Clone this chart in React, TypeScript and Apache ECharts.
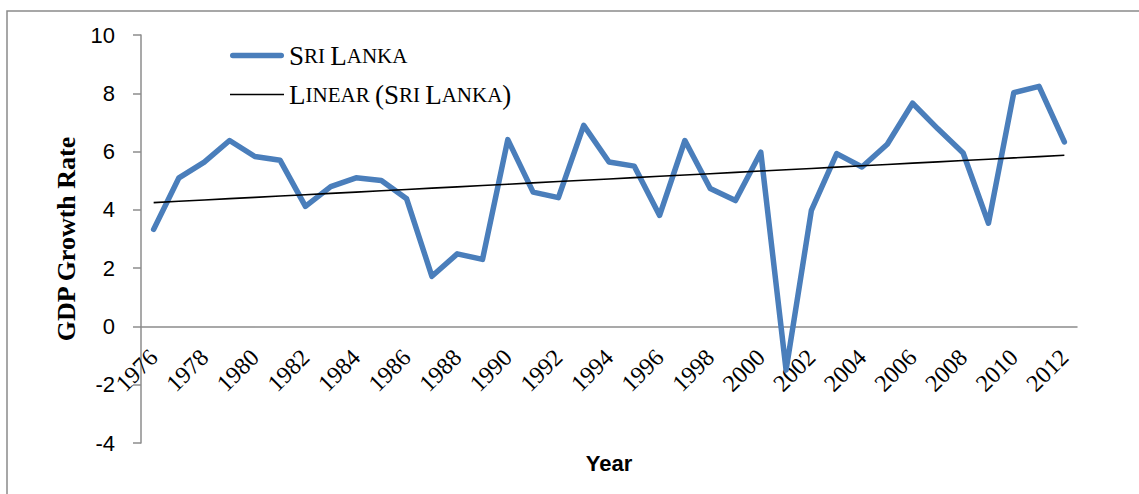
import React, { useEffect, useRef } from "react";
import * as echarts from "echarts";

const years: string[] = [
  "1976", "1977", "1978", "1979", "1980", "1981", "1982", "1983", "1984", "1985",
  "1986", "1987", "1988", "1989", "1990", "1991", "1992", "1993", "1994", "1995",
  "1996", "1997", "1998", "1999", "2000", "2001", "2002", "2003", "2004", "2005",
  "2006", "2007", "2008", "2009", "2010", "2011", "2012",
];

const sriLanka: number[] = [
  3.33, 5.10, 5.64, 6.38, 5.83, 5.70, 4.12, 4.80, 5.10, 5.01,
  4.38, 1.72, 2.49, 2.30, 6.41, 4.61, 4.42, 6.90, 5.64, 5.50,
  3.81, 6.38, 4.73, 4.32, 5.98, -1.50, 3.98, 5.93, 5.47, 6.25,
  7.66, 6.78, 5.95, 3.54, 8.02, 8.24, 6.33,
];

const yTicks = { min: -4, max: 10, interval: 2 };

function linearTrend(vals: number[]): number[] {
  const n = vals.length;
  let sx = 0, sy = 0, sxx = 0, sxy = 0;
  vals.forEach((v, i) => {
    const x = i + 1;
    sx += x; sy += v; sxx += x * x; sxy += x * v;
  });
  const slope = (n * sxy - sx * sy) / (n * sxx - sx * sx);
  const icpt = (sy - slope * sx) / n;
  return vals.map((_, i) => +(icpt + slope * (i + 1)).toFixed(4));
}

const trend = linearTrend(sriLanka);

const serif = "'Liberation Serif', 'Times New Roman', serif";
const sans = "'Liberation Sans', Arial, sans-serif";

const richCaps = {
  b: { fontFamily: serif, fontSize: 27, color: "#000", lineHeight: 22 },
  s: { fontFamily: serif, fontSize: 21, color: "#000", lineHeight: 22 },
};

const blueIcon =
  "path://M2.75,0 L51.25,0 A2.75,2.75 0 0 1 51.25,5.5 L2.75,5.5 A2.75,2.75 0 0 1 2.75,0 Z";
const blackIcon = "path://M0,0 L54,0 L54,1.6 L0,1.6 Z";

const GRID_TOP = 35;
const GRID_BOTTOM = 51;
const CHART_H = 494;

export default function App() {
  const ref = useRef<HTMLDivElement>(null);
  useEffect(() => {
    document.body.style.margin = "0";
    if (!ref.current) return;
    const plotH = CHART_H - GRID_TOP - GRID_BOTTOM;
    // distance from the plot bottom (y = min) up to the zero line
    const zeroOffset = -(plotH * (0 - yTicks.min)) / (yTicks.max - yTicks.min);
    const chart = echarts.init(ref.current, undefined, { renderer: "svg" });
    chart.setOption({
      animation: false,
      backgroundColor: "#ffffff",
      grid: {
        left: 141,
        right: 62,
        top: GRID_TOP,
        bottom: GRID_BOTTOM,
        outerBoundsMode: "none",
      },
      graphic: [
        {
          type: "rect",
          shape: { x: 7, y: 11, width: 1200, height: 600 },
          style: { fill: "none", stroke: "#8a8a8a", lineWidth: 1.5 },
          silent: true,
        },
      ],
      legend: {
        orient: "vertical",
        left: 225,
        top: 37,
        itemWidth: 54,
        itemHeight: 22,
        itemGap: 12,
        symbolKeepAspect: true,
        data: [
          { name: "Sri Lanka", icon: blueIcon },
          { name: "Linear (Sri Lanka)", icon: blackIcon },
        ],
        formatter: (name: string) =>
          name === "Sri Lanka"
            ? "{b|S}{s|RI }{b|L}{s|ANKA}"
            : "{b|L}{s|INEAR }{b|(S}{s|RI }{b|L}{s|ANKA}{b|)}",
        textStyle: { rich: richCaps },
      },
      xAxis: {
        type: "category",
        data: years,
        boundaryGap: true,
        position: "bottom",
        offset: zeroOffset,
        name: "Year",
        nameLocation: "middle",
        nameGap: 126,
        nameTextStyle: { fontFamily: sans, fontSize: 22, fontWeight: "bold", color: "#000" },
        axisLine: { onZero: false, lineStyle: { color: "#8c8c8c", width: 1.5 } },
        axisTick: { show: false },
        axisLabel: {
          interval: 1,
          rotate: 45,
          margin: 27,
          fontFamily: serif,
          fontSize: 24,
          color: "#000",
        },
        splitLine: { show: false },
      },
      yAxis: {
        type: "value",
        min: yTicks.min,
        max: yTicks.max,
        interval: yTicks.interval,
        name: "GDP Growth Rate",
        nameLocation: "middle",
        nameGap: 60,
        nameTextStyle: { fontFamily: serif, fontSize: 26, fontWeight: "bold", color: "#000" },
        axisLine: { show: true, lineStyle: { color: "#8c8c8c", width: 1.5 } },
        axisTick: { show: true, length: 8, lineStyle: { color: "#8c8c8c", width: 1.5 } },
        axisLabel: { margin: 26, fontFamily: sans, fontSize: 22, color: "#000" },
        splitLine: { show: false },
      },
      series: [
        {
          name: "Sri Lanka",
          type: "line",
          data: sriLanka,
          symbol: "none",
          lineStyle: { color: "#4a7ebb", width: 5.5, cap: "round", join: "round" },
          itemStyle: { color: "#4a7ebb" },
          z: 3,
        },
        {
          name: "Linear (Sri Lanka)",
          type: "line",
          data: trend,
          symbol: "none",
          lineStyle: { color: "#000000", width: 1.6 },
          itemStyle: { color: "#000000" },
          z: 4,
        },
      ],
    });
    return () => chart.dispose();
  }, []);
  return <div ref={ref} style={{ width: 1139, height: 494 }} />;
}
